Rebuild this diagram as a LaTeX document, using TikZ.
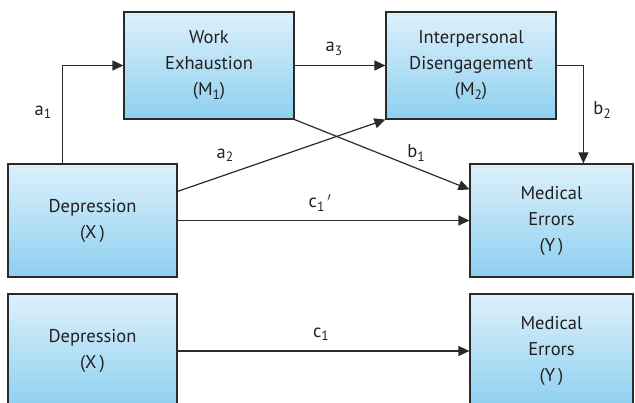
\documentclass[tikz,border=0pt]{standalone}
\usepackage{fontspec}
\setmainfont{PT Sans}
\usetikzlibrary{arrows.meta,calc}
\definecolor{boxtop}{HTML}{DDF0FB}
\definecolor{boxbot}{HTML}{8DD0F0}
\definecolor{edge}{HTML}{2A2A2A}
\definecolor{ink}{HTML}{231F20}
\newcommand\mysub[1]{\raisebox{-0.35ex}{\fontsize{13.5}{14}\selectfont #1}}
\begin{document}
\begin{tikzpicture}[x=1pt,y=-1pt,
  box/.style={draw=edge, line width=1.2pt, rectangle, top color=boxtop, bottom color=boxbot,
    align=center, inner sep=0pt, font=\fontsize{18.5}{26}\selectfont, text=ink},
  arr/.style={draw=edge, line width=1.2pt, -{Triangle[length=11pt,width=10pt]}},
  lab/.style={font=\fontsize{18.5}{22}\selectfont, text=ink, inner sep=0pt}]
\useasboundingbox (0,0) rectangle (635,403);
\clip (0,0) rectangle (635,403);
\node[box, minimum width=170pt, minimum height=107pt] (W) at (209,65.5) {Work\\Exhaustion\\(M\mysub{1})};
\node[box, minimum width=170pt, minimum height=107pt] (I) at (471,65.5) {Interpersonal\\Disengagement\\(M\mysub{2})};
\node[box, minimum width=169pt, minimum height=113pt] (X) at (92.5,220.5) {Depression\\(X\,)};
\node[box, minimum width=163pt, minimum height=113pt] (Y) at (551.5,220.5) {Medical\\Errors\\(Y\,)};
\node[box, minimum width=169pt, minimum height=114pt] (X2) at (92.5,351) {Depression\\(X\,)};
\node[box, minimum width=163pt, minimum height=114pt] (Y2) at (551.5,351) {Medical\\Errors\\(Y\,)};
\draw[arr] (X.north west) ++(55,0) coordinate (a1s) |- (W.west);
\draw[arr] (W.east) -- (I.west);
\draw[arr] (I.east) -| ($(Y.north west)+(114,0)$);
\draw[arr] ($(X.north east)+(0,28)$) -- (I.south west);
\draw[arr] (W.south east) -- ($(Y.north west)+(0,26)$);
\draw[arr] (X.east) -- (Y.west);
\draw[arr] (X2.east) -- (Y2.west);
\node[lab] (la1) at (43,112) {a\mysub{1}};
\node[lab] (la2) at (225,155) {a\mysub{2}};
\node[lab] (la3) at (334,49) {a\mysub{3}};
\node[lab] (lb1) at (416,153) {b\mysub{1}};
\node[lab] (lb2) at (602,110) {b\mysub{2}};
\node[lab] (lc1p) at (320,203) {c\mysub{1}\,$'$};
\node[lab] (lc1) at (321,334) {c\mysub{1}};
\end{tikzpicture}
\end{document}
